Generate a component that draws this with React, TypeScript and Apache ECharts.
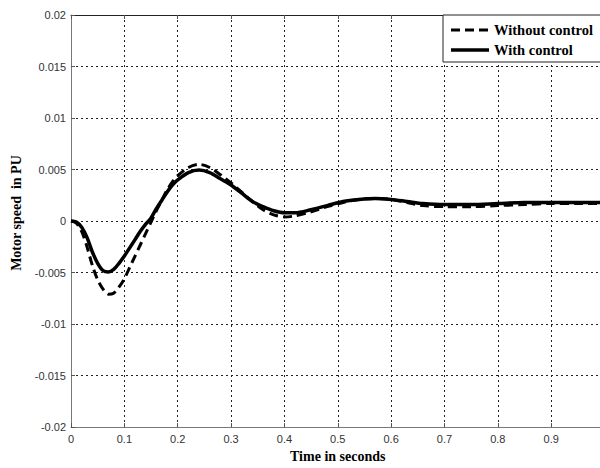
import React, { useEffect, useRef } from "react";
import * as echarts from "echarts";

const timeS = [0, 0.01, 0.02, 0.03, 0.04, 0.05, 0.06, 0.07, 0.08, 0.09, 0.1, 0.11, 0.12, 0.13, 0.14, 0.15, 0.16, 0.17, 0.18, 0.19, 0.2, 0.22, 0.24, 0.26, 0.28, 0.3, 0.32, 0.34, 0.36, 0.38, 0.4, 0.42, 0.45, 0.48, 0.51, 0.54, 0.57, 0.6, 0.63, 0.66, 0.7, 0.75, 0.8, 0.85, 0.9, 0.95, 1.0];

const withControl = [0, -0.0001, -0.0006, -0.0016, -0.003, -0.0041, -0.0048, -0.00495, -0.0047, -0.0041, -0.0034, -0.0026, -0.0018, -0.001, -0.0003, 0.0003, 0.0012, 0.002, 0.0028, 0.0035, 0.004, 0.0047, 0.00495, 0.0047, 0.0041, 0.0035, 0.0027, 0.0019, 0.0014, 0.001, 0.0008, 0.0008, 0.0011, 0.0015, 0.0019, 0.0021, 0.0022, 0.0021, 0.0019, 0.0017, 0.0016, 0.0016, 0.0017, 0.0018, 0.0018, 0.0018, 0.0018];

const withoutControl = [0, -0.0002, -0.001, -0.0025, -0.0043, -0.0057, -0.0066, -0.0071, -0.007, -0.0064, -0.0056, -0.0045, -0.0034, -0.0023, -0.0012, -0.0001, 0.001, 0.002, 0.003, 0.0038, 0.0044, 0.0052, 0.0055, 0.0052, 0.0045, 0.0037, 0.0028, 0.0019, 0.0011, 0.0006, 0.0004, 0.0005, 0.0009, 0.0014, 0.0018, 0.0021, 0.0022, 0.0021, 0.0018, 0.0015, 0.0014, 0.0014, 0.0015, 0.0016, 0.0017, 0.0017, 0.0017];

const legendLabels = ["Without control", "With control"];
const xTitle = "Time in seconds";
const yTitle = "Motor speed  in PU";

const SERIF = "Liberation Serif";
const SANS = "Liberation Sans";

export default function App() {
  const ref = useRef<HTMLDivElement>(null);
  useEffect(() => {
    if (!ref.current) return;
    const chart = echarts.init(ref.current, undefined, { renderer: "svg" });
    const pair = (vals: number[]) => timeS.map((t, i) => [t, vals[i]]);
    const gridDash = { color: "#222", type: [2, 3] as any, width: 1 };
    const labelFont = { fontFamily: SANS, fontSize: 11, color: "#333" };
    const titleFont = { fontFamily: SERIF, fontSize: 14, fontWeight: "bold" as const, color: "#000" };
    chart.setOption({
      animation: false,
      backgroundColor: "#fff",
      textStyle: { fontFamily: SANS },
      grid: { left: 71, top: 15, right: 15.5, bottom: 38.7, show: false },
      xAxis: [
        {
          type: "value",
          min: 0,
          max: 1,
          interval: 0.1,
          position: "bottom",
          axisLine: { show: true, onZero: false, lineStyle: { color: "#777", width: 1 } },
          axisTick: { show: true, inside: true, length: 4, lineStyle: { color: "#555" } },
          axisLabel: { ...labelFont, margin: 6, formatter: (v: number) => (v === 1 ? "" : String(+v.toFixed(1))) },
          splitLine: { show: true, lineStyle: gridDash },
          name: xTitle,
          nameLocation: "middle",
          nameGap: 21,
          nameTextStyle: titleFont,
        },
        {
          type: "value",
          min: 0,
          max: 1,
          interval: 0.1,
          position: "top",
          axisLine: { show: true, onZero: false, lineStyle: { color: "#222", width: 1 } },
          axisTick: { show: true, inside: true, length: 4, lineStyle: { color: "#555" } },
          axisLabel: { show: false },
          splitLine: { show: false },
        },
      ],
      yAxis: [
        {
          type: "value",
          min: -0.02,
          max: 0.02,
          interval: 0.005,
          axisLine: { show: true, onZero: false, lineStyle: { color: "#777", width: 1 } },
          axisTick: { show: true, inside: true, length: 4, lineStyle: { color: "#555" } },
          axisLabel: { ...labelFont, margin: 5, formatter: (v: number) => String(+v.toFixed(3)) },
          splitLine: { show: true, lineStyle: gridDash },
          name: yTitle,
          nameLocation: "middle",
          nameGap: 46,
          nameTextStyle: { ...titleFont, padding: [0, 0, 0, 16] },
        },
        {
          type: "value",
          min: -0.02,
          max: 0.02,
          interval: 0.005,
          position: "right",
          axisLine: { show: true, onZero: false, lineStyle: { color: "#222", width: 1 } },
          axisTick: { show: true, inside: true, length: 4 },
          axisLabel: { show: false },
          splitLine: { show: false },
        },
      ],
      series: [
        {
          name: legendLabels[0],
          type: "line",
          data: pair(withoutControl),
          smooth: 0.3,
          showSymbol: false,
          lineStyle: { color: "#000", width: 3, type: [9, 5] as any },
          z: 3,
        },
        {
          name: legendLabels[1],
          type: "line",
          data: pair(withControl),
          smooth: 0.3,
          showSymbol: false,
          lineStyle: { color: "#000", width: 3.5 },
          z: 4,
        },
      ],
      graphic: [
        {
          type: "rect",
          shape: { x: 443, y: 15, width: 170, height: 47 },
          style: { fill: "#fff", stroke: "#222", lineWidth: 1 },
          z: 10,
        },
        {
          type: "line",
          shape: { x1: 451, y1: 30, x2: 489, y2: 30 },
          style: { stroke: "#000", lineWidth: 3, lineDash: [9, 5] },
          z: 11,
        },
        {
          type: "line",
          shape: { x1: 451, y1: 50, x2: 489, y2: 50 },
          style: { stroke: "#000", lineWidth: 3.5 },
          z: 11,
        },
        {
          type: "text",
          x: 494,
          y: 30,
          style: { text: legendLabels[0], fontFamily: SERIF, fontSize: 14.5, fontWeight: "bold", fill: "#000", verticalAlign: "middle" },
          z: 11,
        },
        {
          type: "text",
          x: 494,
          y: 50,
          style: { text: legendLabels[1], fontFamily: SERIF, fontSize: 14.5, fontWeight: "bold", fill: "#000", verticalAlign: "middle" },
          z: 11,
        },
      ],
    });
    return () => chart.dispose();
  }, []);
  return (
    <div style={{ position: "absolute", left: 0, top: 0, width: 600, height: 468, overflow: "hidden", background: "#fff" }}>
      <div ref={ref} style={{ width: 620, height: 468 }} />
    </div>
  );
}
